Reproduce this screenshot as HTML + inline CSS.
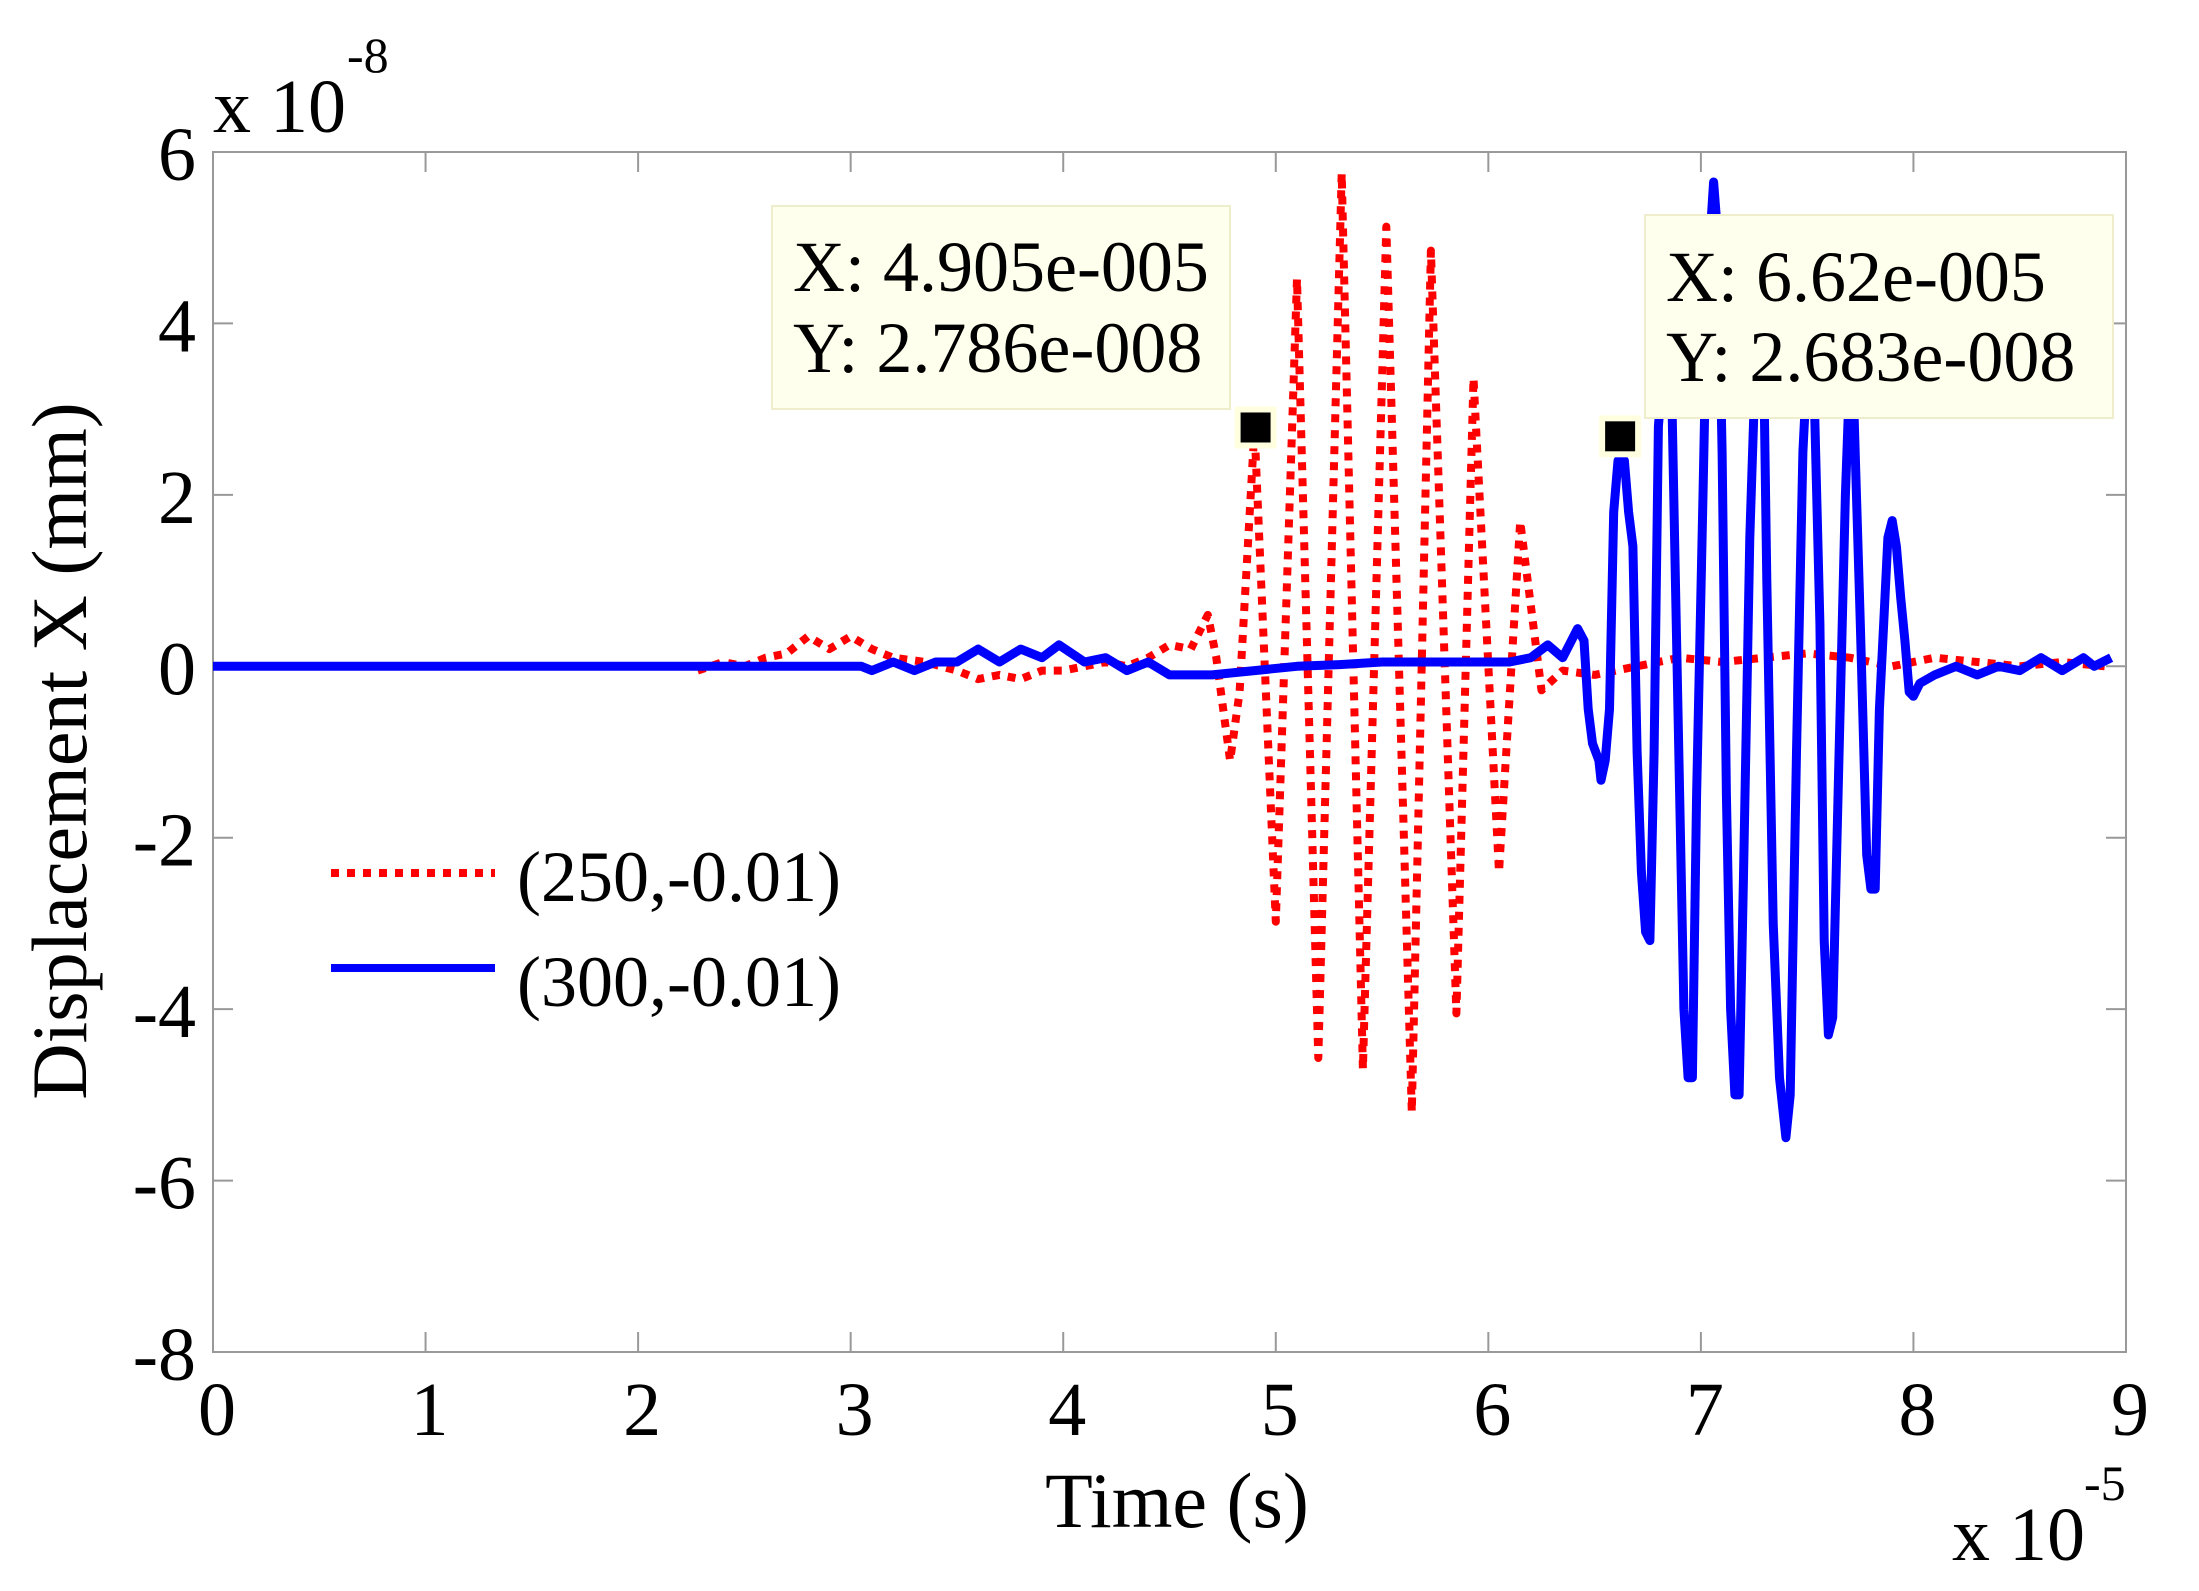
<!DOCTYPE html>
<html><head><meta charset="utf-8"><style>
html,body{margin:0;padding:0;background:#fff;}
svg{display:block;font-family:"Liberation Serif",serif;}
</style></head><body>
<svg id="chart" width="2199" height="1591" viewBox="0 0 2199 1591" xmlns="http://www.w3.org/2000/svg">
<rect x="0" y="0" width="2199" height="1591" fill="#fff"/>
<g id="axes"></g>
<g id="series"></g>
<g id="annot"></g>
</svg>
<script>
const xTicks = [0,1,2,3,4,5,6,7,8,9];
const yTicks = [6,4,2,0,-2,-4,-6,-8];
const xTickLabels = ["0","1","2","3","4","5","6","7","8","9"];
const yTickLabels = ["6","4","2","0","-2","-4","-6","-8"];
const redTimes = [2.28,2.4,2.5,2.6,2.7,2.8,2.9,3.0,3.1,3.2,3.35,3.5,3.6,3.7,3.8,3.9,4.0,4.1,4.2,4.3,4.4,4.5,4.6,4.68,4.72,4.785,4.83,4.9,5.0,5.10,5.2,5.31,5.41,5.52,5.64,5.73,5.85,5.93,6.05,6.15,6.25,6.35,6.5,6.7,6.9,7.1,7.3,7.5,7.7,7.9,8.1,8.3,8.5,8.7,8.9];
const redValues = [-0.05,0.05,0.0,0.1,0.15,0.35,0.2,0.35,0.2,0.1,0.05,-0.05,-0.15,-0.1,-0.15,-0.05,-0.05,0.0,0.05,0.0,0.1,0.25,0.2,0.6,0.1,-1.1,-0.3,2.78,-2.98,4.52,-4.57,5.75,-4.7,5.13,-5.2,4.85,-4.05,3.36,-2.4,1.69,-0.28,-0.05,-0.1,0.0,0.1,0.05,0.1,0.15,0.1,0.0,0.1,0.05,0.0,0.05,0.0];
const blueTimes = [0,3.05,3.1,3.2,3.3,3.4,3.5,3.6,3.7,3.8,3.9,3.98,4.1,4.2,4.3,4.4,4.5,4.7,4.9,5.1,5.3,5.5,5.7,5.9,6.1,6.2,6.28,6.35,6.42,6.45,6.47,6.49,6.52,6.53,6.55,6.57,6.59,6.61,6.64,6.66,6.68,6.70,6.72,6.74,6.76,6.78,6.80,6.82,6.86,6.88,6.92,6.94,6.96,6.98,7.01,7.03,7.06,7.08,7.10,7.12,7.14,7.16,7.18,7.20,7.23,7.26,7.29,7.31,7.34,7.37,7.40,7.42,7.45,7.48,7.51,7.53,7.56,7.58,7.60,7.62,7.65,7.68,7.70,7.72,7.75,7.78,7.80,7.82,7.84,7.86,7.88,7.90,7.92,7.94,7.96,7.98,8.00,8.03,8.1,8.2,8.3,8.4,8.5,8.6,8.7,8.8,8.85,8.93];
const blueValues = [0,0,-0.05,0.05,-0.05,0.05,0.05,0.2,0.05,0.2,0.1,0.25,0.05,0.1,-0.05,0.05,-0.1,-0.1,-0.05,0.0,0.02,0.05,0.05,0.05,0.05,0.1,0.25,0.1,0.44,0.3,-0.5,-0.9,-1.1,-1.33,-1.1,-0.5,1.8,2.4,2.4,1.8,1.4,-1.0,-2.4,-3.1,-3.2,-1.0,2.8,3.4,3.6,1.0,-4.0,-4.8,-4.8,-1.5,2.0,4.5,5.65,5.0,2.5,-1.5,-4.0,-5.0,-5.0,-2.5,1.5,3.8,4.5,1.0,-3.0,-4.8,-5.5,-5.0,-1.0,2.5,4.0,3.5,0.5,-3.2,-4.3,-4.1,-1.0,2.0,3.4,3.0,0.5,-2.2,-2.6,-2.6,-0.5,0.5,1.5,1.7,1.4,0.8,0.3,-0.3,-0.35,-0.2,-0.1,0.0,-0.1,0.0,-0.05,0.1,-0.05,0.1,0.0,0.1];
const markerX = [4.905, 6.62];
const markerY = [2.786, 2.683];

const L=213,R=2126,T=152,B=1352;
const sx = v => L + (v-0)/(9-0)*(R-L);
const sy = v => B - (v-(-8))/(6-(-8))*(B-T);
const NS="http://www.w3.org/2000/svg";
function mk(tag, attrs, parent){const e=document.createElementNS(NS,tag);for(const k in attrs)e.setAttribute(k,attrs[k]);parent.appendChild(e);return e;}
const axes=document.getElementById('axes'), series=document.getElementById('series'), annot=document.getElementById('annot');

let frame=mk('rect',{x:L,y:T,width:R-L,height:B-T,fill:'none',stroke:'#999','stroke-width':2},axes);



xTicks.forEach((t,i)=>{
  const x=sx(t);
  let a=mk('line',{x1:x,y1:B,x2:x,y2:B-20,stroke:'#999','stroke-width':2},axes);
  
  
  let b=mk('line',{x1:x,y1:T,x2:x,y2:T+20,stroke:'#999','stroke-width':2},axes);
  
  
  let tx=mk('text',{x:x+4,y:1435,'font-size':76,'text-anchor':'middle',fill:'#000'},axes);
  tx.textContent=xTickLabels[i];
  
  
});
yTicks.forEach((t,i)=>{
  const y=sy(t);
  let a=mk('line',{x1:L,y1:y,x2:L+20,y2:y,stroke:'#999','stroke-width':2},axes);
  
  
  let b=mk('line',{x1:R,y1:y,x2:R-20,y2:y,stroke:'#999','stroke-width':2},axes);
  
  
  let tx=mk('text',{x:196,y:y+28,'font-size':76,'text-anchor':'end',fill:'#000'},axes);
  tx.textContent=yTickLabels[i];
  
  
});

function pts(xs,ys){return xs.map((t,i)=>sx(t).toFixed(1)+','+sy(ys[i]).toFixed(1)).join(' ');}
let red=mk('polyline',{points:pts(redTimes,redValues),fill:'none',stroke:'#ff0000','stroke-width':8,'stroke-dasharray':'8 8','stroke-linejoin':'round'},series);


let blue=mk('polyline',{points:pts(blueTimes,blueValues),fill:'none',stroke:'#0000ff','stroke-width':9,'stroke-linejoin':'round'},series);



markerX.forEach((m,i)=>{
  const x=sx(m), y=sy(markerY[i]);
  let r=mk('rect',{x:x-18,y:y-18,width:36,height:36,fill:'#000',stroke:'#ffffe0','stroke-width':6},annot);
  
  
});
</script>
<svg style="position:absolute;left:0;top:0" width="2199" height="1591" viewBox="0 0 2199 1591" xmlns="http://www.w3.org/2000/svg" font-family="Liberation Serif, serif">
<g>
<rect x="772" y="206" width="458" height="203" fill="#ffffee" stroke="#eeeecc" stroke-width="2"/>
<text x="793" y="291" font-size="72" fill="#000">X: 4.905e-005</text>
<text x="793" y="372" font-size="72" fill="#000">Y: 2.786e-008</text>
</g>
<g>
<rect x="1645" y="215" width="468" height="203" fill="#ffffee" stroke="#eeeecc" stroke-width="2"/>
<text x="1666" y="301" font-size="72" fill="#000">X: 6.62e-005</text>
<text x="1666" y="381" font-size="72" fill="#000">Y: 2.683e-008</text>
</g>
<g>
<line x1="331" y1="873" x2="495" y2="873" stroke="#ff0000" stroke-width="8" stroke-dasharray="8 8"/>
<text x="517" y="901" font-size="72" fill="#000">(250,-0.01)</text>
<line x1="331" y1="968" x2="495" y2="968" stroke="#0000ff" stroke-width="8"/>
<text x="517" y="1006" font-size="72" fill="#000">(300,-0.01)</text>
</g>
<text x="213" y="132" font-size="76" fill="#000">x 10</text>
<text x="347" y="72" font-size="50" fill="#000">-8</text>
<text x="1952" y="1560" font-size="76" fill="#000">x 10</text>
<text x="2084" y="1500" font-size="50" fill="#000">-5</text>
<text x="1177" y="1527" font-size="78" text-anchor="middle" fill="#000">Time (s)</text>
<text x="0" y="0" font-size="78" text-anchor="middle" fill="#000" transform="translate(86,751) rotate(-90)">Displacement X (mm)</text>
</svg>
</body></html>
